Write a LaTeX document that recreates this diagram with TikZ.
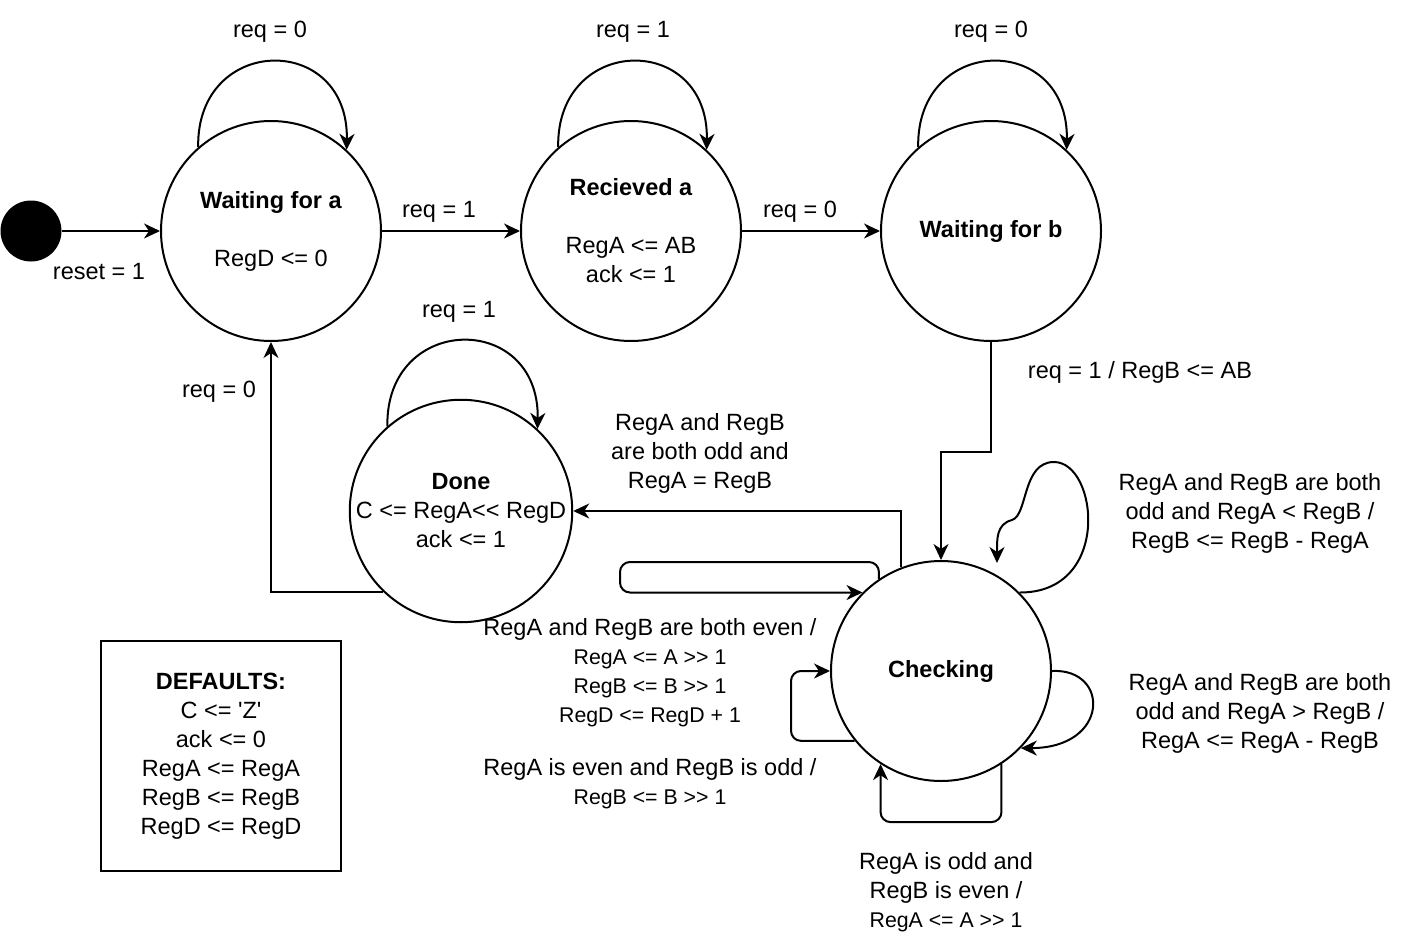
\documentclass[tikz,border=0pt]{standalone}
\usepackage{fontspec}
\newfontfamily\diafont{Liberation Sans}
\usetikzlibrary{arrows.meta, positioning}

\newcommand{\smalltxt}{\fontsize{21.3pt}{29pt}\selectfont}
\tikzset{
  every node/.style={font=\diafont\fontsize{23.5pt}{29pt}\selectfont},
  state/.style={circle, draw, line width=2pt, minimum size=220pt, inner sep=0pt, align=center},
  edge/.style={line width=2pt, -{Stealth[length=16pt, width=15pt, inset=5pt]}},
  lbl/.style={align=center, inner sep=0pt, yshift=-2pt},
}

\begin{document}
\begin{tikzpicture}[x=1pt, y=-1pt]
  \useasboundingbox (0,0) rectangle (1402,934);
  % States
  \node[circle, fill=black, minimum size=61pt, inner sep=0pt] (init) at (31,231) {};
  \node[state] (wa) at (271,231) {\textbf{Waiting for a}\\[29pt]RegD <= 0};
  \node[state] (ra) at (631,231) {\textbf{Recieved a}\\[29pt]RegA <= AB\\ack <= 1};
  \node[state] (wb) at (991,231) {\textbf{Waiting for b}};
  \node[state] (dn) at (461,511) {\textbf{Done}\\C <= RegA<< RegD\\ack <= 1};
  \node[state] (ck) at (941,671) {\textbf{Checking}};
  % Defaults
  \node[draw, line width=2pt, minimum width=240pt, minimum height=230pt, align=center] (def) at (221,756)
    {\textbf{DEFAULTS:}\\C <= \textquotesingle Z\textquotesingle\\ack <= 0\\RegA <= RegA\\RegB <= RegB\\RegD <= RegD};

  % Straight transitions
  \draw[edge] (init) -- (wa);
  \draw[edge] (wa) -- (ra);
  \draw[edge] (ra) -- (wb);
  \draw[edge] (wb.south) -- ++(0,110) -| (ck.north);
  \draw[edge] (ck.111) |- (dn.east);
  \draw[edge] (dn.226) -| (wa.south);

  % Self loops above the states
  \foreach \s in {wa, ra, wb, dn}
    \draw[edge] (\s.131) .. controls +(-2,-113) and +(2,-118) .. (\s.47);

  % Self loops of Checking
  \coordinate (ckend) at (997,563);
  \draw[edge] (ck.45) .. controls (1112,593) and (1098,462) .. (1054,462)
    .. controls (1022,462) and (1028,515) .. (1012,520)
    .. controls (996,524) and (997,540) .. (ckend);
  \draw[edge] (ck.east) .. controls (1110,668) and (1110,748) .. (ck.316);
  \draw[edge, rounded corners=10pt] (ck.124) |- (620,562) |- (ck.135);
  \draw[edge, rounded corners=10pt] (ck.219) -| (791,671) -- (ck.west);
  \draw[edge, rounded corners=10pt] (ck.303) -- ++(0,58) -| (ck.237);

  % Labels
  \node[lbl] (l1) at (99,270) {reset = 1};
  \node[lbl] (l2) at (270,30) {req = 0};
  \node[lbl] (l3) at (633,30) {req = 1};
  \node[lbl] (l4) at (991,30) {req = 0};
  \node[lbl] (l5) at (439,210) {req = 1};
  \node[lbl] (l6) at (800,210) {req = 0};
  \node[lbl] (l7) at (459,310) {req = 1};
  \node[lbl] (l8) at (219,390) {req = 0};
  \node[lbl] (l9) at (1140,370) {req = 1 / RegB <= AB};
  \node[lbl] (l10) at (700,451) {RegA and RegB\\are both odd and\\RegA = RegB};
  \node[lbl] (l11) at (1250,511) {RegA and RegB are both\\odd and RegA < RegB /\\RegB <= RegB - RegA};
  \node[lbl] (l12) at (1260,711) {RegA and RegB are both\\odd and RegA > RegB /\\RegA <= RegA - RegB};
  \node[lbl] (l13) at (650,671) {RegA and RegB are both even /\\\smalltxt RegA <= A >> 1\\\smalltxt RegB <= B >> 1\\\smalltxt RegD <= RegD + 1};
  \node[lbl] (l14) at (650,782) {RegA is even and RegB is odd /\\\smalltxt RegB <= B >> 1};
  \node[lbl] (l15) at (946,890) {RegA is odd and\\RegB is even /\\\smalltxt RegA <= A >> 1};
\end{tikzpicture}
\end{document}
